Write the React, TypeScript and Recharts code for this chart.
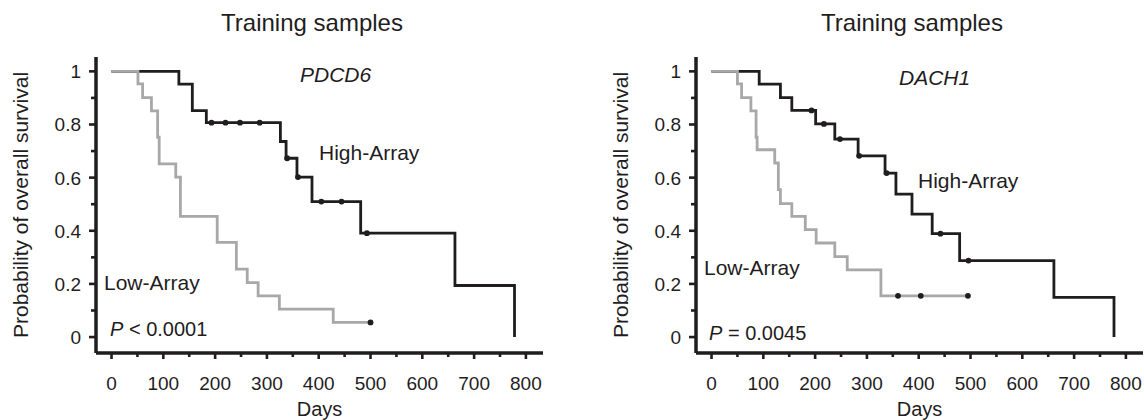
import { ComposedChart, Line, Scatter, XAxis, YAxis } from 'recharts'

const FONT = '"Liberation Sans", Arial, Helvetica, sans-serif'
const INK = '#1f1d1e'
const GREY = '#a8a8a8'

// days axis: ticks every 50, labels every 100
const dayTicks = [0, 50, 100, 150, 200, 250, 300, 350, 400, 450, 500, 550, 600, 650, 700, 750, 800]
const survTicks = [0, 0.1, 0.2, 0.3, 0.4, 0.5, 0.6, 0.7, 0.8, 0.9, 1]

// PDCD6 panel (left)
const pdcd6HighDays = [0, 130, 156, 183, 326, 337, 358, 387, 481, 663, 778]
const pdcd6HighSurv = [1, 0.952, 0.852, 0.807, 0.736, 0.673, 0.602, 0.51, 0.391, 0.194, 0]
const pdcd6HighCensored = [193, 220, 248, 286, 339, 360, 405, 444, 493]
const pdcd6LowDays = [0, 51, 60, 77, 89, 92, 124, 133, 204, 241, 262, 283, 324, 428, 500]
const pdcd6LowSurv = [1, 0.953, 0.901, 0.851, 0.752, 0.652, 0.602, 0.454, 0.356, 0.256, 0.205, 0.155, 0.105, 0.055, 0.055]
const pdcd6LowCensored = [500]

// DACH1 panel (right)
const dach1HighDays = [0, 92, 133, 155, 201, 238, 283, 335, 356, 387, 426, 479, 661, 777]
const dach1HighSurv = [1, 0.952, 0.901, 0.853, 0.802, 0.745, 0.682, 0.617, 0.538, 0.463, 0.389, 0.288, 0.149, 0]
const dach1HighCensored = [193, 217, 248, 285, 338, 442, 496]
const dach1LowDays = [0, 50, 58, 76, 86, 88, 122, 129, 133, 155, 181, 202, 238, 262, 327, 496]
const dach1LowSurv = [1, 0.953, 0.901, 0.851, 0.752, 0.705, 0.655, 0.555, 0.502, 0.454, 0.404, 0.354, 0.303, 0.253, 0.155, 0.155]
const dach1LowCensored = [360, 404, 495]

type Pt = { day: number; s: number }

const steps = (days: number[], surv: number[]): Pt[] => days.map((day, i) => ({ day, s: surv[i] }))

// censored marks sit on the curve at the level it has on that day
const marks = (censored: number[], days: number[], surv: number[]): Pt[] =>
  censored.map(day => {
    let i = 0
    while (i + 1 < days.length && days[i + 1] <= day) i++
    return { day, s: surv[i] }
  })

const renderDayTick = (props: any) => {
  const { x, y, payload } = props
  const major = payload.value % 100 === 0
  return (
    <g>
      <line x1={x} x2={x} y1={y} y2={y + (major ? 6 : 4)} stroke={INK} strokeWidth={2.6} />
      {major && (
        <text x={x} y={y + 37} textAnchor="middle" fontSize={19} fontFamily={FONT} fill={INK}>
          {payload.value}
        </text>
      )}
    </g>
  )
}

const renderSurvTick = (props: any) => {
  const { x, y, payload } = props
  const tenth = Math.round(payload.value * 10)
  const major = tenth % 2 === 0
  const label = tenth === 0 ? '0' : tenth === 10 ? '1' : (tenth / 10).toFixed(1)
  return (
    <g>
      <line x1={x - (major ? 7 : 5)} x2={x} y1={y} y2={y} stroke={INK} strokeWidth={2.6} />
      {major && (
        <text x={x - 15} y={y + 7} textAnchor="end" fontSize={19} fontFamily={FONT} fill={INK}>
          {label}
        </text>
      )}
    </g>
  )
}

const Dot = (props: any) => <circle cx={props.cx} cy={props.cy} r={2.9} fill={INK} />

interface PanelProps {
  left: number
  high: Pt[]
  low: Pt[]
  highMarks: Pt[]
  lowMarks: Pt[]
}

const Panel = ({ left, high, low, highMarks, lowMarks }: PanelProps) => (
  <div style={{ position: 'absolute', left, top: 0 }}>
    <ComposedChart width={560} height={420} margin={{ top: 57, right: 17, bottom: 0, left: 0 }}>
      <XAxis
        dataKey="day"
        type="number"
        domain={[-30, 833]}
        ticks={dayTicks}
        interval={0}
        allowDataOverflow
        tickSize={0}
        tickMargin={0}
        tickLine={false}
        tick={renderDayTick}
        axisLine={{ stroke: INK, strokeWidth: 3.5 }}
        height={67}
        label={({ viewBox }: any) => (
          <text x={viewBox.x + viewBox.width / 2} y={416} textAnchor="middle" fontSize={20} fontFamily={FONT} fill={INK}>
            Days
          </text>
        )}
      />
      <YAxis
        dataKey="s"
        type="number"
        domain={[-0.06, 1.054]}
        ticks={survTicks}
        interval={0}
        allowDataOverflow
        tickSize={0}
        tickMargin={0}
        tickLine={false}
        tick={renderSurvTick}
        axisLine={{ stroke: INK, strokeWidth: 3.5 }}
        width={96}
        label={({ viewBox }: any) => {
          const cy = viewBox.y + viewBox.height / 2
          return (
            <text
              x={20}
              y={cy}
              transform={`rotate(-90 20 ${cy})`}
              textAnchor="middle"
              dominantBaseline="central"
              fontSize={21}
              fontFamily={FONT}
              fill={INK}
            >
              Probability of overall survival
            </text>
          )
        }}
      />
      <Line data={high} dataKey="s" type="stepAfter" stroke={INK} strokeWidth={2.8} dot={false} isAnimationActive={false} />
      <Line data={low} dataKey="s" type="stepAfter" stroke={GREY} strokeWidth={2.8} dot={false} isAnimationActive={false} />
      <Scatter data={highMarks} dataKey="s" shape={Dot} isAnimationActive={false} />
      <Scatter data={lowMarks} dataKey="s" shape={Dot} isAnimationActive={false} />
    </ComposedChart>
  </div>
)

export default function App() {
  const txt = { fontFamily: FONT, fill: INK }
  return (
    <div style={{ position: 'absolute', left: 0, top: 0, width: 1144, height: 420, background: '#fff', overflow: 'hidden' }}>
      <Panel
        left={0}
        high={steps(pdcd6HighDays, pdcd6HighSurv)}
        low={steps(pdcd6LowDays, pdcd6LowSurv)}
        highMarks={marks(pdcd6HighCensored, pdcd6HighDays, pdcd6HighSurv)}
        lowMarks={marks(pdcd6LowCensored, pdcd6LowDays, pdcd6LowSurv)}
      />
      <Panel
        left={600}
        high={steps(dach1HighDays, dach1HighSurv)}
        low={steps(dach1LowDays, dach1LowSurv)}
        highMarks={marks(dach1HighCensored, dach1HighDays, dach1HighSurv)}
        lowMarks={marks(dach1LowCensored, dach1LowDays, dach1LowSurv)}
      />
      <svg width={1144} height={420} style={{ position: 'absolute', left: 0, top: 0, pointerEvents: 'none' }}>
        <text x={312} y={31} textAnchor="middle" fontSize={24} {...txt}>Training samples</text>
        <text x={912} y={31} textAnchor="middle" fontSize={24} {...txt}>Training samples</text>

        <text x={300} y={82} fontSize={21} fontStyle="italic" {...txt}>PDCD6</text>
        <text x={319} y={160} fontSize={21} {...txt}>High-Array</text>
        <text x={104} y={290} fontSize={21} {...txt}>Low-Array</text>
        <text x={110} y={336} fontSize={20} {...txt}>
          <tspan fontStyle="italic">P</tspan> &lt; 0.0001
        </text>

        <text x={899} y={85} fontSize={21} fontStyle="italic" {...txt}>DACH1</text>
        <text x={918} y={188} fontSize={21} {...txt}>High-Array</text>
        <text x={704} y={275} fontSize={21} {...txt}>Low-Array</text>
        <text x={709} y={340} fontSize={20} {...txt}>
          <tspan fontStyle="italic">P</tspan> = 0.0045
        </text>
      </svg>
    </div>
  )
}
